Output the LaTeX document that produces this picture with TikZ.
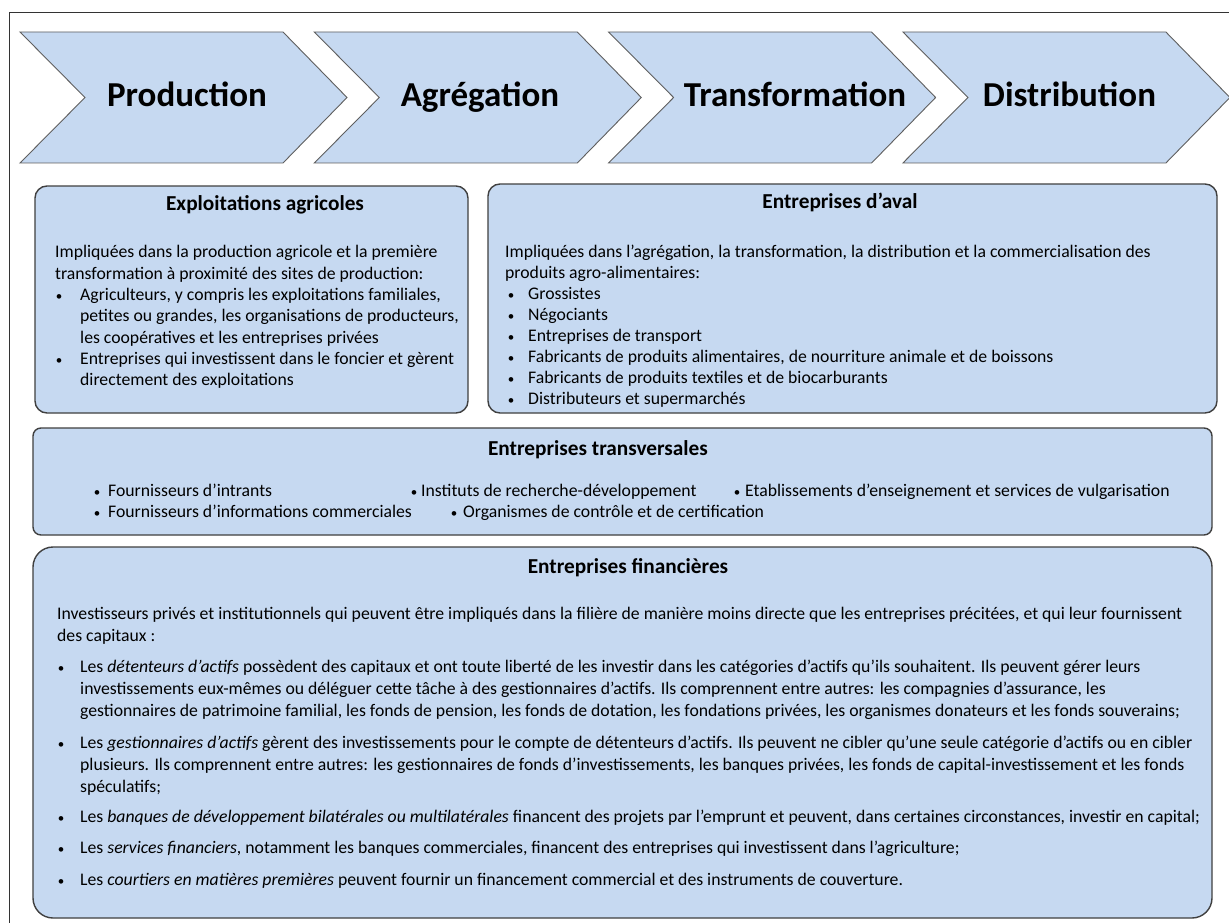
\documentclass[tikz,border=0pt]{standalone}
\usepackage{fontspec}
\setmainfont{Carlito}
\definecolor{boxfill}{HTML}{C6D9F1}
\definecolor{boxline}{HTML}{404040}
\definecolor{chevline}{HTML}{5F5F5F}
\newcommand{\bodyfont}{\fontsize{17.7}{20}\selectfont}
\newcommand{\bulfont}{\fontsize{13}{16}\selectfont}
\newcommand{\titlefont}{\fontsize{21.3}{24}\selectfont\bfseries}
\newcommand{\chevfont}{\fontsize{35}{40}\selectfont\bfseries}
\tikzset{
  panel/.style={draw=boxline, line width=1.4pt, fill=boxfill},
  chevron/.style={draw=chevline, line width=0.9pt, fill=boxfill},
  ln/.style={anchor=base west, inner sep=0pt, font=\bodyfont},
  bul/.style={anchor=base, inner sep=0pt, font=\bulfont},
  ttl/.style={anchor=base, inner sep=0pt, font=\titlefont},
  chevtxt/.style={anchor=base, inner sep=0pt, font=\chevfont},
}
\begin{document}
\begin{tikzpicture}[x=1pt,y=-1pt]
\useasboundingbox (0,0) rectangle (1229,923);
\fill[white] (0,0) rectangle (1229,923);
% outer frame
\draw[line width=1pt, black!80] (9,13) -- (1240,13);
\draw[line width=1pt, black!80] (9,13) -- (9,940);

% chevrons
\foreach \xo/\name/\tx in {20/Production/187, 314.3/Agrégation/480, 608.6/Transformation/795, 902.9/Distribution/1069.5}{
  \draw[chevron] (\xo,32) -- ++(263,0) -- ++(64,65.5) -- ++(-64,65.5) -- ++(-263,0) -- ++(65,-65.5) -- cycle;
  \node[chevtxt] at (\tx,107) {\name};
}

% Box 1
\draw[panel, rounded corners=12pt] (35,186) rectangle (468,413);
\node[ttl] (t1) at (265,210) {Exploitations agricoles};
\node[ln] (a1) at (55,257) {Impliquées dans la production agricole et la première};
\node[ln] (a2) at (55,279) {transformation à proximité des sites de production:};
\node[bul] (ab1) at (59,300) {•};
\node[ln] (a3) at (80,300) {Agriculteurs, y compris les exploitations familiales,};
\node[ln] (a4) at (80,321) {petites ou grandes, les organisations de producteurs,};
\node[ln] (a5) at (80,343) {les coopératives et les entreprises privées};
\node[bul] (ab2) at (59,364) {•};
\node[ln] (a6) at (80,364) {Entreprises qui investissent dans le foncier et gèrent};
\node[ln] (a7) at (80,385) {directement des exploitations};

% Box 2
\draw[panel, rounded corners=12pt] (488,184) rectangle (1217,413);
\node[ttl] (t2) at (840,208) {Entreprises d’aval};
\node[ln] (b1) at (505,257) {Impliquées dans l’agrégation, la transformation, la distribution et la commercialisation des};
\node[ln] (b2) at (505,278) {produits agro-alimentaires:};
\foreach \yy/\tt [count=\i] in {299/Grossistes, 320/Négociants, 341/Entreprises de transport, 362/{Fabricants de produits alimentaires, de nourriture animale et de boissons}, 383/Fabricants de produits textiles et de biocarburants, 404/Distributeurs et supermarchés}{
  \node[bul] (bb\i) at (511,\yy) {•};
  \node[ln] (bl\i) at (528,\yy) {\tt};
}

% Box 3
\draw[panel, rounded corners=8pt] (33,428) rectangle (1212,535);
\node[ttl] (t3) at (598,455) {Entreprises transversales};
\node[bul] (cb1) at (97,496) {•};
\node[ln] (c1) at (108,496) {Fournisseurs d’intrants};
\node[bul] (cb2) at (414,496) {•};
\node[ln] (c2) at (421,496) {Instituts de recherche-développement};
\node[bul] (cb3) at (737,496) {•};
\node[ln] (c3) at (745,496) {Etablissements d’enseignement et services de vulgarisation};
\node[bul] (cb4) at (97,517) {•};
\node[ln] (c4) at (108,517) {Fournisseurs d’informations commerciales};
\node[bul] (cb5) at (454,517) {•};
\node[ln] (c5) at (463,517) {Organismes de contrôle et de certification};

% Box 4
\draw[panel, rounded corners=20pt] (33,547) rectangle (1212,918);
\node[ttl] (t4) at (628,573) {Entreprises financières};
\node[ln] (d1) at (57,619) {Investisseurs privés et institutionnels qui peuvent être impliqués dans la filière de manière moins directe que les entreprises précitées, et qui leur fournissent};
\node[ln] (d2) at (57,641) {des capitaux :};
\node[bul] (db1) at (61,672) {•};
\node[ln] (d3) at (80,672) {Les \textit{détenteurs d’actifs} possèdent des capitaux et ont toute liberté de les investir dans les catégories d’actifs qu’ils souhaitent. Ils peuvent gérer leurs};
\node[ln] (d4) at (80,694) {investissements eux-mêmes ou déléguer cette tâche à des gestionnaires d’actifs. Ils comprennent entre autres: les compagnies d’assurance, les};
\node[ln] (d5) at (80,716) {gestionnaires de patrimoine familial, les fonds de pension, les fonds de dotation, les fondations privées, les organismes donateurs et les fonds souverains;};
\node[bul] (db2) at (61,748) {•};
\node[ln] (d6) at (80,748) {Les \textit{gestionnaires d’actifs} gèrent des investissements pour le compte de détenteurs d’actifs. Ils peuvent ne cibler qu’une seule catégorie d’actifs ou en cibler};
\node[ln] (d7) at (80,770) {plusieurs. Ils comprennent entre autres: les gestionnaires de fonds d’investissements, les banques privées, les fonds de capital-investissement et les fonds};
\node[ln] (d8) at (80,792) {spéculatifs;};
\node[bul] (db3) at (61,822) {•};
\node[ln] (d9) at (80,822) {Les \textit{banques de développement bilatérales ou multilatérales} financent des projets par l’emprunt et peuvent, dans certaines circonstances, investir en capital;};
\node[bul] (db4) at (61,853) {•};
\node[ln] (d10) at (80,853) {Les \textit{services financiers}, notamment les banques commerciales, financent des entreprises qui investissent dans l’agriculture;};
\node[bul] (db5) at (61,885) {•};
\node[ln] (d11) at (80,885) {Les \textit{courtiers en matières premières} peuvent fournir un financement commercial et des instruments de couverture.};
\end{tikzpicture}
\end{document}
